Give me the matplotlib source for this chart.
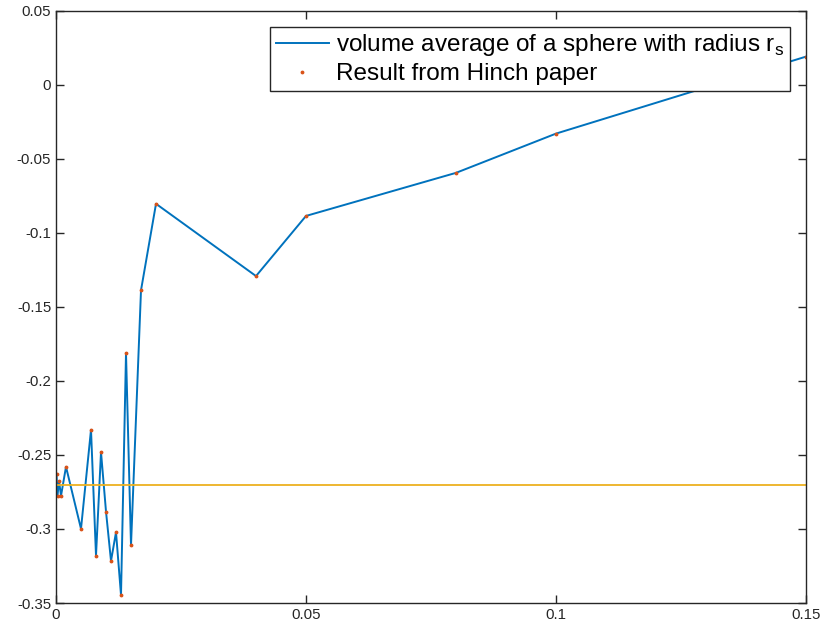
import matplotlib.pyplot as plt

plt.rcParams['font.family'] = ['Liberation Sans', 'DejaVu Sans']
plt.rcParams['mathtext.fontset'] = 'custom'
plt.rcParams['mathtext.rm'] = 'Liberation Sans'

# sampling radii and the volume-averaged values
r_s = [0.0001, 0.0003, 0.0006, 0.001, 0.002, 0.005, 0.007, 0.008, 0.009,
       0.010, 0.011, 0.012, 0.013, 0.014, 0.015, 0.017, 0.02, 0.04, 0.05,
       0.08, 0.1, 0.15]
avg = [-0.263, -0.2776, -0.2675, -0.2776, -0.2580, -0.2999, -0.2330, -0.3180,
       -0.2481, -0.2882, -0.3216, -0.3022, -0.3446, -0.1813, -0.3110, -0.1388,
       -0.0804, -0.1292, -0.0886, -0.0595, -0.0330, 0.019]
hinch = -0.2706

fig = plt.figure(figsize=(8.26, 6.29), dpi=100)
ax = fig.add_axes([0.0678, 0.0413, 0.908, 0.9417])

ax.plot(r_s, avg, color='#0072BD', linewidth=1.4,
        label='volume average of a sphere with radius r$_\\mathrm{s}$')
ax.plot(r_s, avg, '.', color='#D95319', markersize=3.5, label='Result from Hinch paper')
ax.axhline(hinch, color='#EDB120', linewidth=1.3)

ax.set_xlim(0, 0.15)
ax.set_ylim(-0.35, 0.05)
ax.set_xticks([0, 0.05, 0.1, 0.15])
ax.set_xticklabels(['0', '0.05', '0.1', '0.15'])
ax.set_yticks([-0.35, -0.3, -0.25, -0.2, -0.15, -0.1, -0.05, 0, 0.05])
ax.set_yticklabels(['-0.35', '-0.3', '-0.25', '-0.2', '-0.15', '-0.1', '-0.05', '0', '0.05'])
ax.tick_params(direction='in', top=True, right=True, length=6, width=1,
               labelsize=10.8, colors='#262626')
for s in ax.spines.values():
    s.set_color('#262626')
    s.set_linewidth(1)

leg = ax.legend(loc='upper right', bbox_to_anchor=(0.9787, 0.9725), borderaxespad=0,
                fontsize=17.5, fancybox=False, framealpha=1, handlelength=2.2,
                handletextpad=0.3, borderpad=0.22, labelspacing=0.2)
leg.get_frame().set_edgecolor('#262626')
leg.get_frame().set_linewidth(1)

fig.savefig('out.png', dpi=100)
